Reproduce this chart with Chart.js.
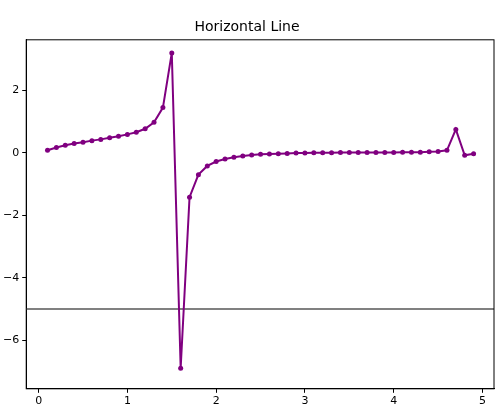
<!DOCTYPE html>
<html>
<head>
<script src="https://cdn.jsdelivr.net/npm/chart.js@4"></script>
<style>
  body { margin: 0; background: #fff; }
  #wrap { width: 500px; height: 410px; }
</style>
</head>
<body>
<div id="wrap"><canvas id="c"></canvas></div>
<script>
const xValues = [0.1, 0.2, 0.3, 0.4, 0.5, 0.6, 0.7, 0.8, 0.9, 1.0,
  1.1, 1.2, 1.3, 1.4, 1.5, 1.6, 1.7, 1.8, 1.9, 2.0,
  2.1, 2.2, 2.3, 2.4, 2.5, 2.6, 2.7, 2.8, 2.9, 3.0,
  3.1, 3.2, 3.3, 3.4, 3.5, 3.6, 3.7, 3.8, 3.9, 4.0,
  4.1, 4.2, 4.3, 4.4, 4.5, 4.6, 4.7, 4.8, 4.9];
const yValues = [0.08, 0.17, 0.24, 0.3, 0.34, 0.39, 0.43, 0.48, 0.53, 0.59,
  0.66, 0.77, 0.98, 1.45, 3.2, -6.9, -1.42, -0.7, -0.42, -0.28,
  -0.2, -0.14, -0.1, -0.07, -0.05, -0.04, -0.03, -0.02, -0.01, -0.01,
  0, 0, 0, 0.01, 0.01, 0.01, 0.01, 0.01, 0.01, 0.01,
  0.02, 0.02, 0.02, 0.03, 0.04, 0.08, 0.75, -0.08, -0.03];
const hLineY = -5;
const xRange = [-0.14, 5.13];
const yRange = [-7.56, 3.62];
const xTicks = [0, 1, 2, 3, 4, 5];
const yTicks = [-6, -4, -2, 0, 2];

const tickFont = { family: "DejaVu Sans", size: 11 };

new Chart(document.getElementById("c"), {
  type: "line",
  data: {
    datasets: [
      {
        data: xValues.map((x, i) => ({ x: x, y: yValues[i] })),
        borderColor: "#800080",
        backgroundColor: "#800080",
        borderWidth: 2,
        pointRadius: 2.5,
        pointBorderWidth: 0,
        tension: 0,
      },
      {
        data: xRange.map((x) => ({ x: x, y: hLineY })),
        borderColor: "#808080",
        borderWidth: 2,
        pointRadius: 0,
      },
    ],
  },
  options: {
    responsive: true,
    maintainAspectRatio: false,
    animation: false,
    layout: { padding: { left: 0, right: 6, top: 0, bottom: 0 } },
    plugins: {
      legend: { display: false },
      tooltip: { enabled: false },
      title: {
        display: true,
        text: "Horizontal Line",
        color: "#000",
        font: { family: "DejaVu Sans", size: 14, weight: "normal" },
        padding: { top: 19, bottom: 4 },
      },
    },
    scales: {
      x: {
        type: "linear",
        min: xRange[0],
        max: xRange[1],
        grid: { drawOnChartArea: false, tickLength: 4, color: "#000" },
        border: { color: "#000" },
        ticks: { color: "#000", font: tickFont, padding: 2 },
        afterBuildTicks: (s) => { s.ticks = xTicks.map((v) => ({ value: v })); },
      },
      y: {
        min: yRange[0],
        max: yRange[1],
        grid: { drawOnChartArea: false, tickLength: 4, color: "#000" },
        border: { color: "#000" },
        ticks: {
          color: "#000",
          font: tickFont,
          padding: 3,
          callback: (v) => (v < 0 ? "\u2212" + Math.abs(v) : String(v)),
        },
        afterBuildTicks: (s) => { s.ticks = yTicks.map((v) => ({ value: v })); },
      },
    },
  },
  plugins: [{
    id: "frame",
    afterDraw(chart) {
      const a = chart.chartArea, c = chart.ctx;
      c.save();
      c.strokeStyle = "#000";
      c.lineWidth = 1;
      c.strokeRect(a.left, a.top, a.right - a.left, a.bottom - a.top);
      c.restore();
    },
  }],
});
</script>
</body>
</html>
